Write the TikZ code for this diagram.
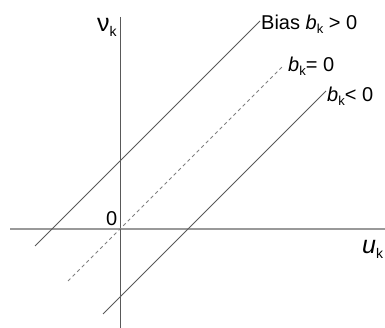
\documentclass[tikz,border=0pt]{standalone}
\usepackage{fontspec}
\setmainfont{Liberation Sans}
\newcommand\lowsub[2][13]{\raisebox{-0.35ex}{\fontsize{#1}{#1}\selectfont #2}}
\begin{document}
\begin{tikzpicture}[x=1pt,y=-1pt,
  lbl/.style={inner sep=0pt, anchor=base west, font=\fontsize{20}{24}\selectfont},
  biglbl/.style={inner sep=0pt, anchor=base west, font=\fontsize{25}{30}\selectfont},
  vaxis/.style={draw=black!65, line width=0.8pt},
  haxis/.style={draw=black!40, line width=1.3pt},
  biasline/.style={draw=black!65, line width=0.75pt},
  zeroline/.style={draw=black!50, line width=0.75pt, dash pattern=on 3.5pt off 3pt}]
\useasboundingbox (0,0) rectangle (385,328);
% axes
\coordinate (vtop) at (120.5,17);
\coordinate (vbot) at (120.5,328);
\coordinate (hl) at (10,229);
\coordinate (hr) at (385,229);
\draw[haxis] (hl) -- (hr);
\draw[vaxis] (vtop) -- (vbot);
% lines
\coordinate (p1) at (35,246);
\coordinate (p2) at (260,21);
\coordinate (z1) at (68,281);
\coordinate (z2) at (283,66);
\coordinate (n1) at (103,314);
\coordinate (n2) at (326,91);
\draw[biasline] (p1) -- (p2);
\draw[zeroline] (z1) -- (z2);
\draw[biasline] (n1) -- (n2);
% labels
\node[biglbl] (nu) at (97,32) {ν\lowsub[14]{k}};
\node[biglbl] (u) at (362,254) {\itshape u\lowsub[14]{\upshape k}};
\node[lbl] (zero) at (106,226) {0};
\node[lbl] (lp) at (261,30) {Bias {\itshape b}\lowsub{k} > 0};
\node[lbl] (lz) at (288,72) {{\itshape b}\lowsub{k}= 0};
\node[lbl] (ln) at (327,102) {{\itshape b}\lowsub{k}< 0};
\end{tikzpicture}
\end{document}
